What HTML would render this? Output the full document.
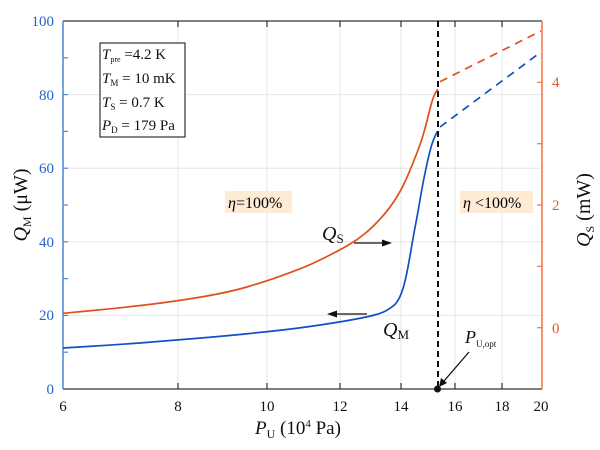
<!DOCTYPE html>
<html><head><meta charset="utf-8"><style>
html,body{margin:0;padding:0;background:#fff;}
svg{display:block;font-family:"Liberation Serif",serif;}
</style></head><body>
<svg width="600" height="450" viewBox="0 0 600 450" xmlns="http://www.w3.org/2000/svg">
<!-- grid -->
<g stroke="#e6e6e6" stroke-width="1">
<line x1="178" y1="21" x2="178" y2="389"/>
<line x1="267" y1="21" x2="267" y2="389"/>
<line x1="340" y1="21" x2="340" y2="389"/>
<line x1="401" y1="21" x2="401" y2="389"/>
<line x1="455" y1="21" x2="455" y2="389"/>
<line x1="502" y1="21" x2="502" y2="389"/>
<line x1="63" y1="315.4" x2="542" y2="315.4"/>
<line x1="63" y1="241.8" x2="542" y2="241.8"/>
<line x1="63" y1="168.2" x2="542" y2="168.2"/>
<line x1="63" y1="94.6" x2="542" y2="94.6"/>
</g>
<!-- eta boxes -->
<rect x="225" y="191" width="67" height="22" fill="#fdebd5"/>
<text x="228" y="208" font-size="16"><tspan font-style="italic">η</tspan>=100%</text>
<rect x="460" y="191" width="73" height="22" fill="#fdebd5"/>
<text x="463" y="208" font-size="16"><tspan font-style="italic">η</tspan> &lt;100%</text>
<!-- top and bottom axes -->
<line x1="63" y1="21" x2="542" y2="21" stroke="#333" stroke-width="1.3"/>
<line x1="63" y1="389" x2="542" y2="389" stroke="#333" stroke-width="1.3"/>
<g stroke="#333" stroke-width="1.2">
<line x1="178" y1="389" x2="178" y2="383"/><line x1="267" y1="389" x2="267" y2="383"/>
<line x1="340" y1="389" x2="340" y2="383"/><line x1="401" y1="389" x2="401" y2="383"/>
<line x1="455" y1="389" x2="455" y2="383"/><line x1="502" y1="389" x2="502" y2="383"/>
<line x1="178" y1="21" x2="178" y2="27"/><line x1="267" y1="21" x2="267" y2="27"/>
<line x1="340" y1="21" x2="340" y2="27"/><line x1="401" y1="21" x2="401" y2="27"/>
<line x1="455" y1="21" x2="455" y2="27"/><line x1="502" y1="21" x2="502" y2="27"/>
</g>
<g font-size="15" text-anchor="middle" fill="#111">
<text x="63" y="411">6</text><text x="178" y="411">8</text><text x="267" y="411">10</text>
<text x="340" y="411">12</text><text x="401" y="411">14</text><text x="455" y="411">16</text>
<text x="502" y="411">18</text><text x="541" y="411">20</text>
</g>
<text x="255" y="434" font-size="19" fill="#111"><tspan font-style="italic">P</tspan><tspan font-size="12" dy="4">U</tspan><tspan dy="-4"> (10</tspan><tspan font-size="11" dy="-7">4</tspan><tspan dy="7"> Pa)</tspan></text>
<!-- left axis -->
<line x1="63" y1="21" x2="63" y2="389" stroke="#4a85d6" stroke-width="1.5"/>
<g stroke="#4a85d6" stroke-width="1.2">
<line x1="63" y1="352.2" x2="68" y2="352.2"/><line x1="63" y1="315.4" x2="68" y2="315.4"/>
<line x1="63" y1="278.6" x2="68" y2="278.6"/><line x1="63" y1="241.8" x2="68" y2="241.8"/>
<line x1="63" y1="205" x2="68" y2="205"/><line x1="63" y1="168.2" x2="68" y2="168.2"/>
<line x1="63" y1="131.4" x2="68" y2="131.4"/><line x1="63" y1="94.6" x2="68" y2="94.6"/>
<line x1="63" y1="57.8" x2="68" y2="57.8"/>
</g>
<g font-size="15" text-anchor="end" fill="#2463c7">
<text x="54" y="394">0</text><text x="54" y="320">20</text><text x="54" y="247">40</text>
<text x="54" y="173">60</text><text x="54" y="100">80</text><text x="54" y="26">100</text>
</g>
<text transform="translate(27,205) rotate(-90)" font-size="20" text-anchor="middle" fill="#111"><tspan font-style="italic">Q</tspan><tspan font-size="12" dy="4">M</tspan><tspan dy="-4"> (μW)</tspan></text>
<!-- right axis -->
<line x1="542" y1="21" x2="542" y2="389" stroke="#f07245" stroke-width="1.5"/>
<g stroke="#f07245" stroke-width="1.2">
<line x1="542" y1="327.7" x2="537" y2="327.7"/><line x1="542" y1="266.3" x2="537" y2="266.3"/>
<line x1="542" y1="205" x2="537" y2="205"/><line x1="542" y1="143.7" x2="537" y2="143.7"/>
<line x1="542" y1="82.3" x2="537" y2="82.3"/>
</g>
<g font-size="15" fill="#e35b2a">
<text x="552" y="333">0</text><text x="552" y="210">2</text><text x="552" y="87">4</text>
</g>
<text transform="translate(590,210) rotate(-90)" font-size="20" text-anchor="middle" fill="#111"><tspan font-style="italic">Q</tspan><tspan font-size="12" dy="4">S</tspan><tspan dy="-4"> (mW)</tspan></text>
<!-- curves -->
<path d="M63,348 L91.5,346.25 Q120,344.5 149,342.25 Q178,340 204,337.75 Q230,335.5 248.5,333.6 Q267,331.7 283.5,329.85 Q300,328 320,325 Q340,322 353.5,319.5 Q367,317 374.5,315 Q382,313 386,310.75 Q390,308.5 393.5,305.75 Q397,303 400,296.5 Q403,290 405.5,279 Q408,268 410.5,253 Q413,238 415.5,225 Q418,212 420.5,197 Q423,182 426.5,166 Q430,150 432,144 Q434,138 435.85,134.5 L437.7,131" fill="none" stroke="#1150c4" stroke-width="1.7" stroke-linejoin="round"/>
<path d="M63,313.3 L91.5,310.65 Q120,308 149,304.5 Q178,301 204,296.5 Q230,292 248.5,286.5 Q267,281 278.5,276.85 Q290,272.7 300,268.85 Q310,265 325,257.5 Q340,250 348.5,245 Q357,240 365,233.5 Q373,227 381.5,217.5 Q390,208 396.5,197.5 Q403,187 408,175 Q413,163 417.5,151.5 Q422,140 425,128.5 Q428,117 430.5,107 Q433,97 435.35,93 L437.7,89" fill="none" stroke="#e0501a" stroke-width="1.7" stroke-linejoin="round"/>
<line x1="440" y1="81.7" x2="541" y2="31" stroke="#e0501a" stroke-width="1.7" stroke-dasharray="8,6"/>
<line x1="440" y1="127" x2="541" y2="52" stroke="#1150c4" stroke-width="1.7" stroke-dasharray="8,6"/>
<!-- vertical dashed -->
<line x1="438" y1="21" x2="438" y2="389" stroke="#111" stroke-width="2" stroke-dasharray="6,4"/>
<circle cx="437.5" cy="389" r="3.5" fill="#111"/>
<!-- arrows -->
<g stroke="#111" stroke-width="1.3" fill="#111">
<line x1="354" y1="243" x2="384" y2="243"/>
<polygon points="392,243 382,239.5 382,246.5" stroke="none"/>
<line x1="367" y1="314" x2="336" y2="314"/>
<polygon points="327,314 337,310.5 337,317.5" stroke="none"/>
<line x1="469" y1="352" x2="444" y2="381"/>
<polygon points="439,387 441,378 447,383" stroke="none"/>
</g>
<text x="322" y="240" font-size="20" fill="#111"><tspan font-style="italic">Q</tspan><tspan font-size="13" dy="3">S</tspan></text>
<text x="383" y="336" font-size="20" fill="#111"><tspan font-style="italic">Q</tspan><tspan font-size="13" dy="3">M</tspan></text>
<text x="465" y="343" font-size="18" fill="#111"><tspan font-style="italic">P</tspan><tspan font-size="9" dy="4">U,opt</tspan></text>
<!-- legend box -->
<rect x="100" y="43" width="85" height="94" fill="#fff" stroke="#333" stroke-width="1.2"/>
<g font-size="15" fill="#111">
<text x="102" y="59"><tspan font-style="italic">T</tspan><tspan font-size="8" dy="3">pre</tspan><tspan dy="-3"> =4.2 K</tspan></text>
<text x="102" y="83"><tspan font-style="italic">T</tspan><tspan font-size="9" dy="3">M</tspan><tspan dy="-3"> = 10 mK</tspan></text>
<text x="102" y="107"><tspan font-style="italic">T</tspan><tspan font-size="9" dy="3">S</tspan><tspan dy="-3"> = 0.7 K</tspan></text>
<text x="102" y="130"><tspan font-style="italic">P</tspan><tspan font-size="9" dy="3">D</tspan><tspan dy="-3"> = 179 Pa</tspan></text>
</g>
</svg>
</body></html>
